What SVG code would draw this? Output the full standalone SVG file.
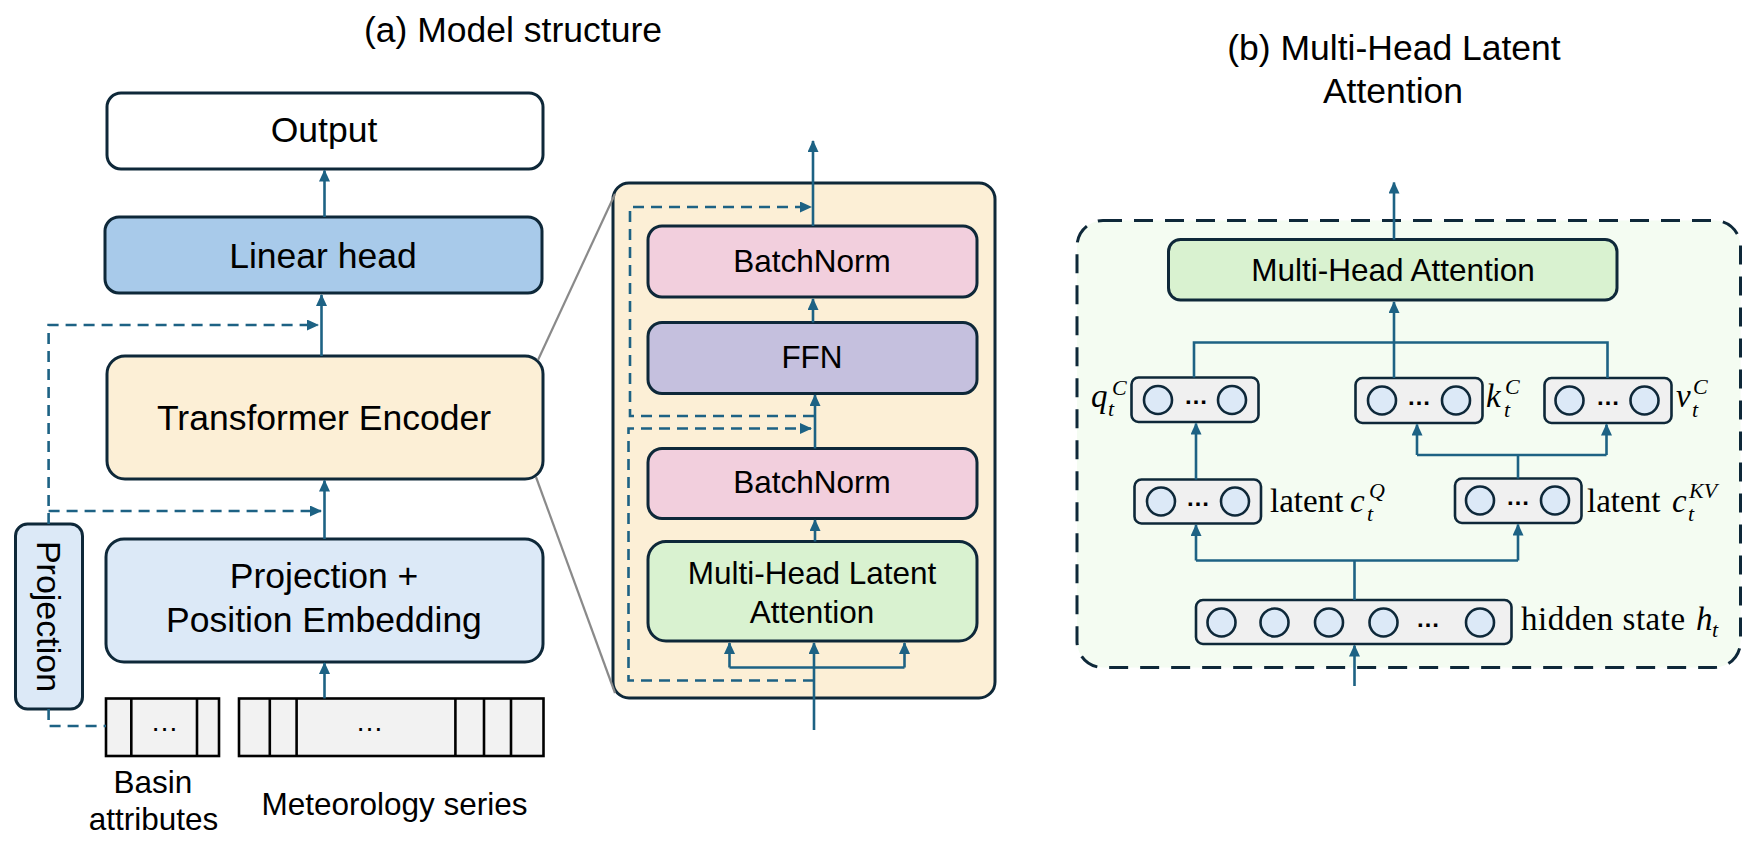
<svg xmlns="http://www.w3.org/2000/svg" width="1760" height="847" viewBox="0 0 1760 847">
<defs>
<marker id="ah" markerUnits="userSpaceOnUse" markerWidth="12" markerHeight="11" refX="11" refY="5.5" orient="auto">
<path d="M0,0 L12,5.5 L0,11 z" fill="#1d6284"/>
</marker>
<style>
.box{stroke:#0e2839;stroke-width:3}
.lbl{font-family:"Liberation Sans",Arial,sans-serif;fill:#000;text-anchor:middle}
.big{font-size:35.5px}
.mid{font-size:31.5px}
.ar{fill:none;stroke:#1d6284;stroke-width:2.6}
.dash{fill:none;stroke:#1d6284;stroke-width:2.6;stroke-dasharray:11 7}
.gray{stroke:#8a8a8a;stroke-width:2.2;fill:none}
.inp{fill:#f2f2f2;stroke:#000;stroke-width:2.6}
.sm{fill:#f0f0f0;stroke:#0e2839;stroke-width:2.6}
.cir{fill:#dce9f7;stroke:#0e2839;stroke-width:2.6}
.math{font-family:"Liberation Serif","Times New Roman",serif;fill:#000}
.it{font-style:italic}
.m33{font-size:33px}
.s22{font-size:22px}
.dots{font-family:"Liberation Sans",Arial,sans-serif;font-weight:bold;font-size:24px;text-anchor:middle;fill:#000}
</style>
</defs>
<rect width="1760" height="847" fill="#fff"/>

<text class="lbl big" x="513" y="42">(a) Model structure</text>
<text class="lbl big" x="1394" y="60">(b) Multi-Head Latent</text>
<text class="lbl big" x="1393" y="103">Attention</text>

<g id="inset-bg">
<rect x="613" y="183" width="382" height="515" rx="16" fill="#fcefd6" class="box"/>
</g>
<g id="mla-bg">
<rect x="1077" y="220.5" width="663.5" height="447" rx="26" fill="#f4fcf2" stroke="#0e2839" stroke-width="3" stroke-dasharray="19 12"/>
</g>

<g id="output"><rect class="box" x="107" y="93" width="436" height="76" rx="14" fill="#fff"/><text class="lbl big" x="324" y="142">Output</text></g>
<g id="linear-head"><rect class="box" x="105" y="217" width="437" height="76" rx="14" fill="#a8caea"/><text class="lbl big" x="323" y="268">Linear head</text></g>
<g id="transformer"><rect class="box" x="107" y="356" width="436" height="123" rx="18" fill="#fcefd6"/><text class="lbl big" x="324" y="430">Transformer Encoder</text></g>
<g id="proj-pos"><rect class="box" x="106" y="539" width="437" height="123" rx="18" fill="#dce9f7"/><text class="lbl big" x="324" y="588">Projection +</text><text class="lbl big" x="324" y="632">Position Embedding</text></g>
<g id="projection"><rect class="box" x="15.5" y="524" width="67" height="185" rx="12" fill="#dce9f7"/><text class="lbl" font-size="34" transform="translate(36.5,616.5) rotate(90)" y="0">Projection</text></g>
<g id="basin">
<rect class="inp" x="106" y="698.5" width="113" height="57.5"/>
<line class="inp" x1="131.3" y1="698.5" x2="131.3" y2="756"/>
<line class="inp" x1="197" y1="698.5" x2="197" y2="756"/>
<text class="lbl" font-size="28" x="164.5" y="731">…</text>
<text class="lbl mid" x="153" y="793">Basin</text>
<text class="lbl mid" x="153.5" y="830">attributes</text>
</g>
<g id="meteo">
<rect class="inp" x="239" y="698.5" width="304.5" height="57.5"/>
<line class="inp" x1="269.8" y1="698.5" x2="269.8" y2="756"/>
<line class="inp" x1="296.6" y1="698.5" x2="296.6" y2="756"/>
<line class="inp" x1="455.4" y1="698.5" x2="455.4" y2="756"/>
<line class="inp" x1="484" y1="698.5" x2="484" y2="756"/>
<line class="inp" x1="511" y1="698.5" x2="511" y2="756"/>
<text class="lbl" font-size="28" x="369.5" y="731">…</text>
<text class="lbl mid" x="394.5" y="815">Meteorology series</text>
</g>

<g id="bn1"><rect class="box" x="648" y="226" width="329" height="71" rx="14" fill="#f2cfdd"/><text class="lbl mid" x="812" y="272">BatchNorm</text></g>
<g id="ffn"><rect class="box" x="648" y="322.5" width="329" height="71" rx="14" fill="#c5c0de"/><text class="lbl mid" x="812" y="367.5">FFN</text></g>
<g id="bn2"><rect class="box" x="648" y="448.5" width="329" height="70" rx="14" fill="#f2cfdd"/><text class="lbl mid" x="812" y="493">BatchNorm</text></g>
<g id="mhla"><rect class="box" x="648" y="541.5" width="329" height="99.5" rx="18" fill="#d9f2d0"/><text class="lbl mid" x="812" y="583.5">Multi-Head Latent</text><text class="lbl mid" x="812" y="622.5">Attention</text></g>

<g id="mha"><rect class="box" x="1168.5" y="239.5" width="448.5" height="60.5" rx="12" fill="#d9f2d0"/><text class="lbl mid" x="1393" y="281">Multi-Head Attention</text></g>

<g id="q-vec">
<rect class="sm" x="1131.5" y="377.5" width="127" height="44.5" rx="7"/>
<circle class="cir" cx="1158" cy="400" r="14"/><circle class="cir" cx="1232" cy="400" r="14"/>
<text class="dots" x="1196" y="404">…</text>
<text class="math it m33" x="1091" y="407">q</text>
<text class="math it s22" x="1112" y="395">C</text>
<text class="math it s22" x="1108" y="416">t</text>
</g>
<g id="k-vec">
<rect class="sm" x="1355.5" y="378" width="127" height="45" rx="7"/>
<circle class="cir" cx="1382" cy="400.5" r="14"/><circle class="cir" cx="1456" cy="400.5" r="14"/>
<text class="dots" x="1419" y="404.5">…</text>
<text class="math it m33" x="1486" y="407">k</text>
<text class="math it s22" x="1505" y="394">C</text>
<text class="math it s22" x="1504" y="416.5">t</text>
</g>
<g id="v-vec">
<rect class="sm" x="1544.5" y="378" width="127" height="45" rx="7"/>
<circle class="cir" cx="1569.5" cy="400.5" r="14"/><circle class="cir" cx="1644.5" cy="400.5" r="14"/>
<text class="dots" x="1608" y="404.5">…</text>
<text class="math it m33" x="1676" y="407">v</text>
<text class="math it s22" x="1693" y="394">C</text>
<text class="math it s22" x="1692" y="416.5">t</text>
</g>
<g id="latent-q">
<rect class="sm" x="1134.5" y="479.5" width="126.5" height="44" rx="7"/>
<circle class="cir" cx="1161" cy="501.5" r="14"/><circle class="cir" cx="1235" cy="501.5" r="14"/>
<text class="dots" x="1198" y="505.5">…</text>
<text class="math m33" x="1270" y="512">latent</text>
<text class="math it m33" x="1350" y="512">c</text>
<text class="math it s22" x="1369" y="498">Q</text>
<text class="math it s22" x="1367" y="521">t</text>
</g>
<g id="latent-kv">
<rect class="sm" x="1455" y="478.5" width="126.5" height="44.5" rx="7"/>
<circle class="cir" cx="1480" cy="500.5" r="14"/><circle class="cir" cx="1555" cy="500.5" r="14"/>
<text class="dots" x="1518" y="504.5">…</text>
<text class="math m33" x="1587" y="512">latent</text>
<text class="math it m33" x="1672" y="512">c</text>
<text class="math it s22" x="1689" y="498">KV</text>
<text class="math it s22" x="1688" y="521">t</text>
</g>
<g id="hidden">
<rect class="sm" x="1196" y="600" width="315.5" height="44" rx="7"/>
<circle class="cir" cx="1221.5" cy="622.5" r="14"/><circle class="cir" cx="1274.5" cy="622.5" r="14"/>
<circle class="cir" cx="1329" cy="622.5" r="14"/><circle class="cir" cx="1383.5" cy="622.5" r="14"/>
<circle class="cir" cx="1480" cy="622.5" r="14"/>
<text class="dots" x="1428" y="626.5">…</text>
<text class="math m33" x="1521" y="629.5" letter-spacing="0.5">hidden state</text>
<text class="math it m33" x="1696" y="629.5">h</text>
<text class="math it s22" x="1712" y="637">t</text>
</g>

<g id="connectors">
<line class="gray" x1="538" y1="360" x2="615" y2="194"/>
<line class="gray" x1="536" y1="477" x2="615" y2="693"/>
<line class="ar" x1="324.5" y1="217" x2="324.5" y2="170.5" marker-end="url(#ah)"/>
<line class="ar" x1="321.5" y1="356" x2="321.5" y2="295" marker-end="url(#ah)"/>
<line class="ar" x1="324.5" y1="539" x2="324.5" y2="480.5" marker-end="url(#ah)"/>
<line class="ar" x1="324.5" y1="698.5" x2="324.5" y2="663" marker-end="url(#ah)"/>
<path class="dash" d="M48.6,524 V325 H318" marker-end="url(#ah)"/>
<path class="dash" d="M48.6,511 H321" marker-end="url(#ah)"/>
<path class="dash" d="M48.6,709 V726 H106"/>
<line class="ar" x1="814" y1="730" x2="814" y2="643" marker-end="url(#ah)"/>
<path class="ar" d="M729.5,667.5 H904.5"/>
<line class="ar" x1="729.5" y1="667.5" x2="729.5" y2="643" marker-end="url(#ah)"/>
<line class="ar" x1="904.5" y1="667.5" x2="904.5" y2="643" marker-end="url(#ah)"/>
<line class="ar" x1="815" y1="541.5" x2="815" y2="520" marker-end="url(#ah)"/>
<line class="ar" x1="815" y1="448.5" x2="815" y2="395" marker-end="url(#ah)"/>
<line class="ar" x1="813" y1="322.5" x2="813" y2="299" marker-end="url(#ah)"/>
<line class="ar" x1="813" y1="226" x2="813" y2="141" marker-end="url(#ah)"/>
<path class="dash" d="M814,680.5 H628.5 V428.5 H811" marker-end="url(#ah)"/>
<path class="dash" d="M814,416 H630 V207 H811" marker-end="url(#ah)"/>
<line class="ar" x1="1394" y1="239.5" x2="1394" y2="182.5" marker-end="url(#ah)"/>
<line class="ar" x1="1394" y1="342.5" x2="1394" y2="302" marker-end="url(#ah)"/>
<path class="ar" d="M1194,377.5 V342.5 H1607.5 V378"/>
<line class="ar" x1="1394" y1="342.5" x2="1394" y2="378"/>
<line class="ar" x1="1196" y1="479.5" x2="1196" y2="423.5" marker-end="url(#ah)"/>
<line class="ar" x1="1518" y1="478.5" x2="1518" y2="455"/>
<path class="ar" d="M1417,455 H1606.5"/>
<line class="ar" x1="1417" y1="455" x2="1417" y2="424.5" marker-end="url(#ah)"/>
<line class="ar" x1="1606.5" y1="455" x2="1606.5" y2="424.5" marker-end="url(#ah)"/>
<line class="ar" x1="1354.5" y1="600" x2="1354.5" y2="560.5"/>
<path class="ar" d="M1196,560.5 H1518"/>
<line class="ar" x1="1196" y1="560.5" x2="1196" y2="525" marker-end="url(#ah)"/>
<line class="ar" x1="1518" y1="560.5" x2="1518" y2="524.5" marker-end="url(#ah)"/>
<line class="ar" x1="1354.5" y1="686" x2="1354.5" y2="645.5" marker-end="url(#ah)"/>
</g>
</svg>
